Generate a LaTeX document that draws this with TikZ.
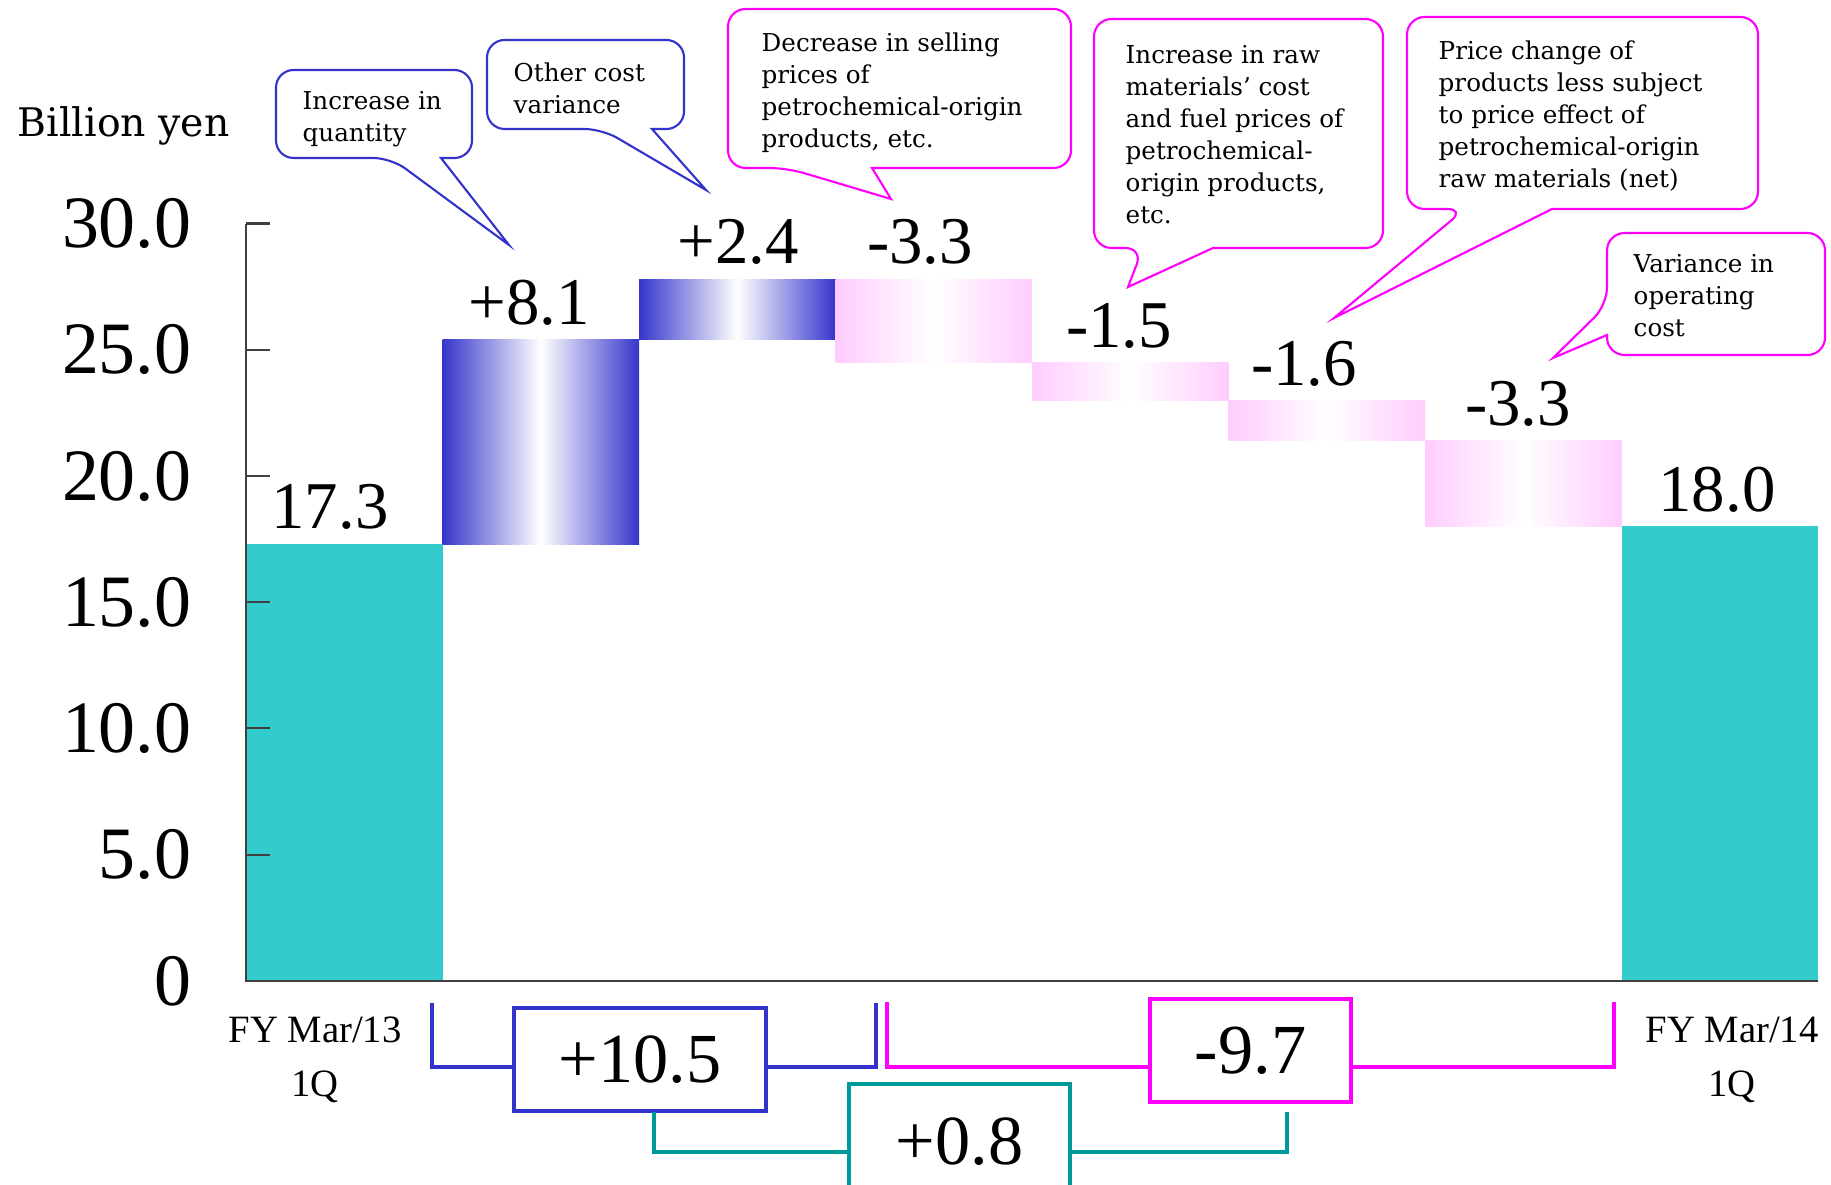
\documentclass[tikz,border=0pt]{standalone}
\usepackage{fontspec}
\setmainfont{Liberation Serif}
\newfontfamily\bookfont{DejaVu Serif}
\usetikzlibrary{positioning}

\definecolor{barteal}{HTML}{33CCCC}
\definecolor{barblue}{HTML}{3636CC}
\definecolor{barpink}{HTML}{FFCCFF}
\definecolor{lineblue}{HTML}{3333CC}
\definecolor{linemag}{HTML}{FF00FF}
\definecolor{lineteal}{HTML}{009999}

\begin{document}
\begin{tikzpicture}[
        x=0.01cm, y=0.01cm,
        axisline/.style={draw=black!75, line width=0.6pt},
        ticklabel/.style={anchor=east, inner sep=0pt, font=\fontsize{21}{24}\selectfont},
        barlabel/.style={anchor=base, inner sep=0pt, font=\fontsize{19}{22}\selectfont},
        upbar/.style={left color=barblue, right color=barblue, middle color=white},
        downbar/.style={left color=barpink, right color=barpink, middle color=white},
        note/.style={anchor=north west, inner sep=0pt, align=left, font=\bookfont\fontsize{7}{9.1}\selectfont},
        bubble/.style={line width=0.6pt, fill=white},
        catlabel/.style={anchor=north, inner sep=0pt, align=center, font=\fontsize{11}{15.4}\selectfont},
        sumbox/.style={draw, line width=1.1pt, fill=white, inner sep=0pt, font=\fontsize{20}{24}\selectfont},
        bracket/.style={line width=1.1pt},
    ]

    \clip (0,0) rectangle (1831,1184);
    \fill[white] (0,0) rectangle (1831,1184);

    % unit label
    \node[anchor=base west, inner sep=0pt, font=\bookfont\fontsize{11.2}{13}\selectfont] (unit) at (17,1047) {Billion yen};

    % bars, axis and values (one unit = 1 billion yen)
    \begin{scope}[yshift=2.03cm, y=0.2523cm]
        \fill[barteal] (246,0) rectangle (442.5,17.3);
        \fill[barteal] (1621.5,0) rectangle (1818,18.0);

        \foreach \xa/\ya/\yb/\kind in {442.5/17.3/25.4/upbar, 639/25.4/27.8/upbar,
                835.5/24.5/27.8/downbar, 1032/23.0/24.5/downbar,
                1228.5/21.4/23.0/downbar, 1425/18.0/21.4/downbar}
            \shade[\kind] (\xa,\ya) rectangle ({\xa+196.5},\yb);

        % axis and ticks
        \draw[axisline] (246,30) -- (246,0) -- (1818,0);
        \foreach \v in {5,10,...,30}
            \draw[axisline] (246,\v) -- (270,\v);

        \foreach \v/\t in {0/0, 5/5.0, 10/10.0, 15/15.0, 20/20.0, 25/25.0, 30/30.0}
            \node[ticklabel] (tick-\v) at (192,\v) {\t};

        % values above the bars
        \foreach \lx/\top/\txt [count=\i] in {330/17.3/17.3, 529/25.4/{+8.1}, 738/27.8/{+2.4},
                920/27.8/{-3.3}, 1119/24.5/{-1.5}, 1304/23.0/{-1.6}, 1518/21.4/{-3.3}, 1717/18.0/18.0}
            \node[barlabel] (val-\i) at (\lx,{\top+0.6}) {\txt};
    \end{scope}

    % category labels
    \node[catlabel] (fy13) at (315,168) {FY Mar/13\\1Q};
    \node[catlabel] (fy14) at (1732,168) {FY Mar/14\\1Q};

    % callouts
    \draw[bubble, draw=lineblue] (509,939) -- (441,1026) [rounded corners=5pt] -- (472,1026) -- (472,1114)
        -- (276,1114) -- (276,1026) -- (391,1026) [sharp corners] -- cycle;
    \node[note] (n-qty) at (302,1093) {Increase in\\quantity};

    \draw[bubble, draw=lineblue] (706,994) -- (652,1055) [rounded corners=5pt] -- (684,1055) -- (684,1144)
        -- (487,1144) -- (487,1055) -- (602,1055) [sharp corners] -- cycle;
    \node[note] (n-cost) at (513,1122) {Other cost\\variance};

    \draw[bubble, draw=linemag] (891,985) -- (872,1016) [rounded corners=5pt] -- (1071,1016) -- (1071,1175)
        -- (728,1175) -- (728,1016) -- (787,1016) [sharp corners] -- cycle;
    \node[note] (n-sell) at (761,1152) {Decrease in selling\\prices of\\petrochemical-origin\\products, etc.};

    \draw[bubble, draw=linemag] (1128,897) -- (1213,936) [rounded corners=5pt] -- (1383,936) -- (1383,1165)
        -- (1094,1165) -- (1094,936) -- (1143,936) [sharp corners] -- cycle;
    \node[note] (n-raw) at (1125,1139) {Increase in raw\\materials’ cost\\and fuel prices of\\petrochemical-\\origin products,\\etc.};

    \draw[bubble, draw=linemag] (1334,866) -- (1552,975) [rounded corners=5pt] -- (1758,975) -- (1758,1167)
        -- (1407,1167) -- (1407,975) -- (1465,975) [sharp corners] -- cycle;
    \node[note] (n-price) at (1438,1144) {Price change of\\products less subject\\to price effect of\\petrochemical-origin\\raw materials (net)};

    \draw[bubble, draw=linemag] (1553,826) -- (1607,849) [rounded corners=5pt] -- (1607,829) -- (1825,829)
        -- (1825,951) -- (1607,951) -- (1607,879) [sharp corners] -- cycle;
    \node[note] (n-oper) at (1633,930) {Variance in\\operating\\cost};

    % totals below the chart
    \node[sumbox, draw=lineblue, minimum width=2.52cm, minimum height=1.03cm] (up) at (640,124.5) {+10.5};
    \node[sumbox, draw=linemag, minimum width=2.01cm, minimum height=1.03cm] (down) at (1250.5,133.5) {-9.7};
    \node[sumbox, draw=lineteal, minimum width=2.21cm, minimum height=1.16cm] (net) at (959.5,42) {+0.8};

    \coordinate (up-l) at (432,181);
    \coordinate (up-r) at (876,181);
    \coordinate (down-l) at (887,182);
    \coordinate (down-r) at (1614,182);
    \coordinate (net-l) at (654,72);
    \coordinate (net-r) at (1287,72);
    \coordinate (mid-y) at (0,117);
    \coordinate (low-y) at (0,32);

    \draw[bracket, draw=lineblue] (up-l) |- (up.west |- mid-y) (up.east |- mid-y) -| (up-r);
    \draw[bracket, draw=linemag] (down-l) |- (down.west |- mid-y) (down.east |- mid-y) -| (down-r);
    \draw[bracket, draw=lineteal] (net-l) |- (net.west |- low-y) (net.east |- low-y) -| (net-r);
\end{tikzpicture}
\end{document}
